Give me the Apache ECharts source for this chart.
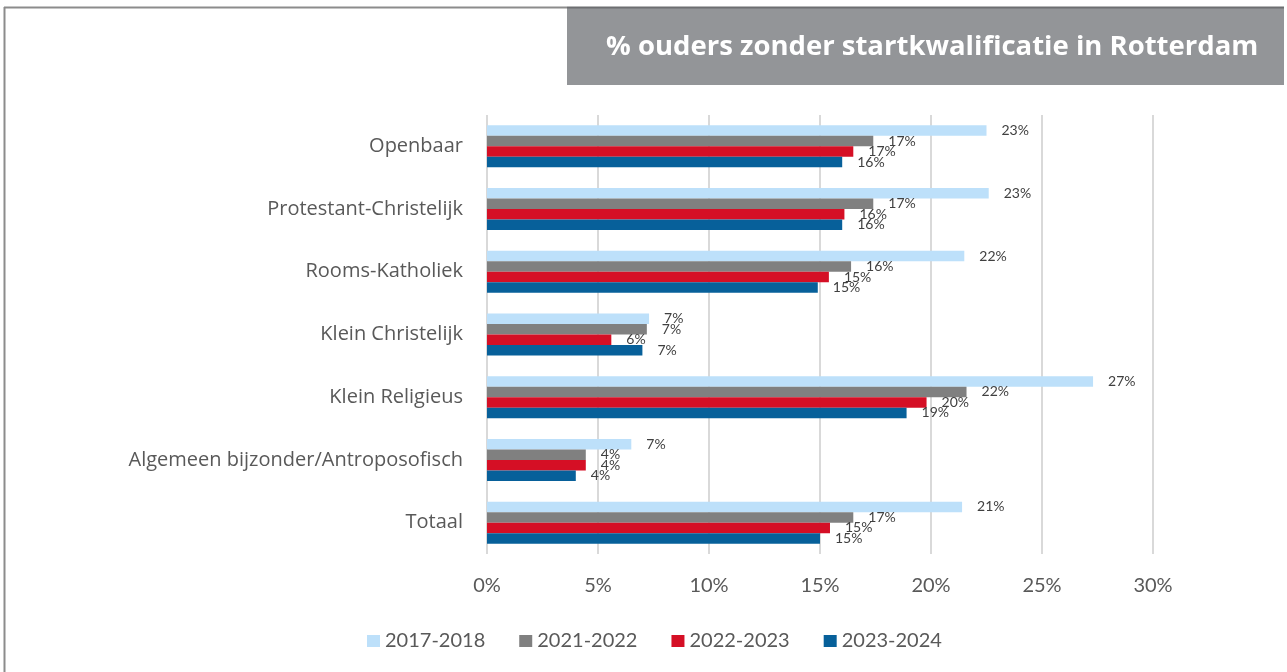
<!DOCTYPE html>
<html>
<head>
<meta charset="utf-8">
<script src="https://cdn.jsdelivr.net/npm/echarts@6/dist/echarts.min.js"></script>
<style>
  html, body { margin: 0; padding: 0; background: #fff; }
  #chart { width: 1287px; height: 672px; }
</style>
</head>
<body>
<div id="chart"></div>
<script>
// Categories, top to bottom
const categories = ['Openbaar', 'Protestant-Christelijk', 'Rooms-Katholiek', 'Klein Christelijk',
    'Klein Religieus', 'Algemeen bijzonder/Antroposofisch', 'Totaal'];

// % ouders zonder startkwalificatie per schooljaar
const years = ['2017-2018', '2021-2022', '2022-2023', '2023-2024'];
const values2017 = [22.5, 22.6, 21.5, 7.3, 27.3, 6.5, 21.4];
const values2021 = [17.4, 17.4, 16.4, 7.2, 21.6, 4.45, 16.5];
const values2022 = [16.5, 16.1, 15.4, 5.6, 19.8, 4.45, 15.45];
const values2023 = [16.0, 16.0, 14.9, 7.0, 18.9, 4.0, 15.0];

const xTicks = [0, 5, 10, 15, 20, 25, 30];

const colors = ['#BDE0FA', '#808080', '#D50F25', '#07609A'];
const font = 'Lato, "Open Sans", sans-serif';

document.addEventListener('DOMContentLoaded', function() {
    const chart = echarts.init(document.getElementById('chart'));

    const allValues = [values2017, values2021, values2022, values2023];

    const series = years.map(function(name, i) {
        return {
            name: name,
            type: 'bar',
            data: allValues[i],
            barGap: 0,
            barCategoryGap: '33%',
            itemStyle: { color: colors[i] },
            label: {
                show: true,
                position: 'right',
                distance: 15,
                color: '#404040',
                fontSize: 14,
                fontFamily: font,
                formatter: function(p) { return Math.round(p.value) + '%'; }
            }
        };
    });

    const option = {
        animation: false,
        color: colors,
        textStyle: { fontFamily: font },
        grid: {
            left: 487,
            right: 134,
            top: 115,
            bottom: 118
        },
        legend: {
            data: years,
            left: 362,
            top: 626,
            icon: 'rect',
            itemWidth: 13,
            itemHeight: 12,
            itemGap: 34,
            textStyle: { color: '#595959', fontSize: 20, fontFamily: font }
        },
        xAxis: {
            type: 'value',
            min: xTicks[0],
            max: xTicks[xTicks.length - 1],
            interval: 5,
            axisLine: { show: false },
            axisTick: { show: false },
            axisLabel: {
                color: '#595959',
                fontSize: 20,
                fontFamily: font,
                margin: 22,
                formatter: '{value}%'
            },
            splitLine: { lineStyle: { color: '#D9D9D9', width: 2 } }
        },
        yAxis: {
            type: 'category',
            data: categories,
            inverse: true,
            axisLine: { show: false },
            axisTick: { show: false },
            axisLabel: {
                color: '#595959',
                fontSize: 20,
                fontFamily: '"Open Sans", sans-serif',
                margin: 24
            }
        },
        graphic: [
            {
                type: 'line',
                shape: { x1: 4.5, y1: 7, x2: 4.5, y2: 672 },
                style: { stroke: '#8C8C8C', lineWidth: 2 }
            },
            {
                type: 'line',
                shape: { x1: 4, y1: 7.5, x2: 567, y2: 7.5 },
                style: { stroke: '#8C8C8C', lineWidth: 2 }
            },
            {
                type: 'rect',
                shape: { x: 567, y: 7, width: 717, height: 78 },
                style: { fill: '#939598' }
            },
            {
                type: 'line',
                shape: { x1: 567, y1: 7.5, x2: 1284, y2: 7.5 },
                style: { stroke: '#6D6E71', lineWidth: 2 }
            },
            {
                type: 'text',
                left: 606,
                top: 33,
                style: {
                    text: '% ouders zonder startkwalificatie in Rotterdam',
                    fill: '#ffffff',
                    font: 'bold 27.5px "Open Sans", sans-serif'
                }
            }
        ],
        series: series
    };

    chart.setOption(option);

    window.addEventListener('resize', function() {
        chart.resize();
    });
});
</script>
</body>
</html>
